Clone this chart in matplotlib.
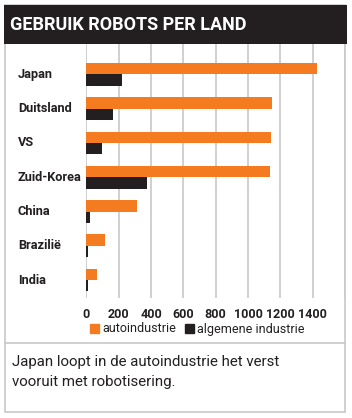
import matplotlib
matplotlib.use('Agg')
import matplotlib.pyplot as plt
from matplotlib.patches import Rectangle, Patch
from matplotlib.transforms import blended_transform_factory

# Data
countries = ['Japan', 'Duitsland', 'VS', 'Zuid-Korea', 'China', 'Brazilië', 'India']
auto = [1425, 1150, 1145, 1135, 313, 116, 66]
algemeen = [220, 165, 95, 375, 23, 10, 10]
ticks = [0, 200, 400, 600, 800, 1000, 1200, 1400]

orange = '#f47b20'
dark = '#231f20'
grid_col = '#c8c8c8'
font = ['Roboto', 'DejaVu Sans']

W, H = 352, 418
fig = plt.figure(figsize=(W / 100, H / 100), dpi=100)

def fx(px):
    return px / W

def fy(py):
    return 1 - py / H

# Outer box and header
fig.patches.append(Rectangle((fx(5), fy(412)), fx(340), 407 / H, transform=fig.transFigure,
                             facecolor='none', edgecolor=grid_col, linewidth=1.2, zorder=0))
fig.patches.append(Rectangle((fx(4), fy(44)), fx(343), 39 / H, transform=fig.transFigure,
                             facecolor=dark, edgecolor='none', zorder=1))
fig.lines.append(plt.Line2D([fx(5), fx(345)], [fy(343), fy(343)], transform=fig.transFigure,
                            color=grid_col, linewidth=1.2))
fig.text(fx(10), fy(25), 'GEBRUIK ROBOTS PER LAND', color='white', fontsize=13,
         fontweight='bold', family=font, va='center', ha='left')

# Chart axes
ax = fig.add_axes([fx(86.3), fy(298), fx(345 - 86.3), (298 - 44) / H])
ax.set_zorder(2)
ax.patch.set_alpha(0)
ax.set_xlim(0, 1600)
ax.set_ylim(6.52, -0.88)
h = 0.33
ys = list(range(len(countries)))
ax.barh([y - h / 2 for y in ys], auto, height=h, color=orange, zorder=3)
ax.barh([y + h / 2 for y in ys], algemeen, height=h, color=dark, zorder=3)

ax.set_xticks(ticks + [1600])
ax.set_xticklabels([str(t) for t in ticks] + [''], fontsize=9, fontweight='bold',
                   family=font, color=dark)
ax.tick_params(axis='x', length=0, pad=7)
ax.set_yticks([])
ax.grid(axis='x', color=grid_col, linewidth=1.2, zorder=0)
for s in ax.spines.values():
    s.set_visible(False)

trans = blended_transform_factory(fig.transFigure, ax.transData)
for y, c in zip(ys, countries):
    ax.text(fx(18), y, c, transform=trans, fontsize=9.2, fontweight='bold', family=font,
            color=dark, va='center', ha='left')

handles = [Patch(color=orange, label='autoindustrie'), Patch(color=dark, label='algemene industrie')]
leg = fig.legend(handles=handles, loc='center left', bbox_to_anchor=(fx(81), fy(329)), ncol=2,
                 frameon=False, handlelength=0.7, handleheight=0.7, handletextpad=0.3,
                 columnspacing=0.7, borderpad=0.2, prop={'family': font, 'size': 9})
for t in leg.get_texts():
    t.set_color(dark)

fig.text(fx(12), fy(372), 'Japan loopt in de autoindustrie het verst\nvooruit met robotisering.',
         fontsize=10.8, family=font, color=dark, va='center', ha='left', linespacing=1.55)

plt.savefig('out.png', dpi=100)
